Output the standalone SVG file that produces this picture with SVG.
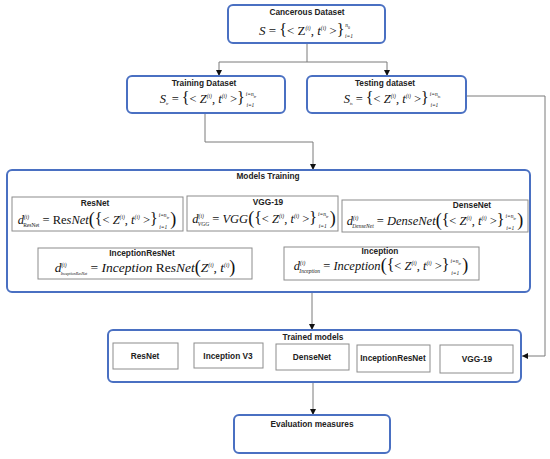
<svg xmlns="http://www.w3.org/2000/svg" width="550" height="459" viewBox="0 0 550 459">
<style>
.bx{fill:#fff;stroke:#4a70c2;stroke-width:2}
.sb{fill:#fff;stroke:#8c8c8c;stroke-width:1}
.lb{font-family:"Liberation Sans",Arial,sans-serif;font-weight:bold;font-size:8.3px;fill:#222;text-anchor:middle}
.m{font-family:"Liberation Serif","Times New Roman",serif;font-size:12.5px;fill:#111;text-anchor:middle}
.i{font-style:italic}
.s{font-size:5.5px}
.xs{font-size:4px}
.b{font-size:16px}
.p{font-size:18px}
.cn{fill:none;stroke:#7a7a7a;stroke-width:1}
</style>
<defs>
<marker id="ah" viewBox="0 0 10 10" refX="10" refY="5" markerWidth="6" markerHeight="6" markerUnits="userSpaceOnUse" orient="auto"><path d="M0,0 L10,5 L0,10 z" fill="#111"/></marker>
</defs>
<rect width="550" height="459" fill="#fff"/>
<g id="connectors">
<path class="cn" d="M307,43 V62 H219 V76" marker-end="url(#ah)"/>
<path class="cn" d="M307,62 H387 V76" marker-end="url(#ah)"/>
<path class="cn" d="M205,113 V142 H313 V170" marker-end="url(#ah)"/>
<path class="cn" d="M466,96 H545 V356 H522" marker-end="url(#ah)"/>
<path class="cn" d="M312,292 V330" marker-end="url(#ah)"/>
<path class="cn" d="M313,382 V415" marker-end="url(#ah)"/>
</g>
<g id="cancerous">
<rect class="bx" x="228" y="5" width="157" height="38" rx="5"/>
<text class="lb" x="307" y="15">Cancerous Dataset</text>
<text class="m" x="306" y="35" style="font-size:13px"><tspan class="i">S</tspan> = <tspan class="b">{</tspan>&lt; Z<tspan class="s i" dy="-5">(i)</tspan><tspan dy="5">, </tspan><tspan class="i">t</tspan><tspan class="s i" dy="-5">(i)</tspan><tspan dy="5"> &gt;</tspan><tspan class="b">}</tspan><tspan class="s i" dx="1" dy="-8">n</tspan><tspan class="xs" dy="1.5">0</tspan><tspan class="s i" dx="-5" dy="9.5">i=1</tspan></text>
</g>
<g id="training">
<rect class="bx" x="127" y="76" width="158" height="37" rx="5"/>
<text class="lb" x="204" y="86">Training Dataset</text>
<text class="m" x="208" y="103"><tspan class="i">S</tspan><tspan class="xs i" dy="2">tr</tspan><tspan dy="-2"> = </tspan><tspan class="b">{</tspan>&lt; <tspan class="i">Z</tspan><tspan class="s i" dy="-5">(i)</tspan><tspan dy="5">, </tspan><tspan class="i">t</tspan><tspan class="s i" dy="-5">(i)</tspan><tspan dy="5"> &gt;</tspan><tspan class="b">}</tspan><tspan class="s i" dx="1" dy="-7">i=n</tspan><tspan class="xs i" dy="1.5">tr</tspan><tspan class="s i" dx="-10" dy="9.5">i=1</tspan></text>
</g>
<g id="testing">
<rect class="bx" x="307" y="76" width="159" height="37" rx="5"/>
<text class="lb" x="385" y="86">Testing dataset</text>
<text class="m" x="392" y="103"><tspan class="i">S</tspan><tspan class="xs i" dy="2">ts</tspan><tspan dy="-2"> = </tspan><tspan class="b">{</tspan>&lt; <tspan class="i">Z</tspan><tspan class="s i" dy="-5">(i)</tspan><tspan dy="5">, </tspan><tspan class="i">t</tspan><tspan class="s i" dy="-5">(i)</tspan><tspan dy="5"> &gt;</tspan><tspan class="b">}</tspan><tspan class="s i" dx="1" dy="-7">i=n</tspan><tspan class="xs i" dy="1.5">ts</tspan><tspan class="s i" dx="-10" dy="9.5">i=1</tspan></text>
</g>
<g id="models-training">
<rect class="bx" x="7" y="170" width="523" height="122" rx="5"/>
<text class="lb" x="268" y="179">Models Training</text>
</g>
<g id="resnet-formula">
<rect class="sb" x="12" y="197" width="171" height="34"/>
<text class="lb" x="95" y="206">ResNet</text>
<text class="m" x="97" y="224"><tspan class="i">d</tspan><tspan class="s i" dy="-5">(i)</tspan><tspan class="s" dx="-6" dy="8">ResNet</tspan><tspan dy="-3"> = Re</tspan><tspan class="i">sNet</tspan><tspan class="p" dy="1">(</tspan><tspan class="b" dy="-1">{</tspan>&lt; <tspan class="i">Z</tspan><tspan class="s i" dy="-5">(i)</tspan><tspan dy="5">, </tspan><tspan class="i">t</tspan><tspan class="s i" dy="-5">(i)</tspan><tspan dy="5"> &gt;</tspan><tspan class="b">}</tspan><tspan class="s i" dx="1" dy="-7">i=n</tspan><tspan class="xs i" dy="1.5">tr</tspan><tspan class="s i" dx="-10" dy="10.5">i=1</tspan><tspan class="p" dx="3" dy="-4">)</tspan></text>
</g>
<g id="vgg-formula">
<rect class="sb" x="187" y="196" width="151" height="35"/>
<text class="lb" x="268" y="205">VGG-19</text>
<text class="m" x="264" y="223"><tspan class="i">d</tspan><tspan class="s i" dy="-5">(i)</tspan><tspan class="s i" dx="-6" dy="8">VGG</tspan><tspan dy="-3"> = </tspan><tspan class="i">VGG</tspan><tspan class="p" dy="1">(</tspan><tspan class="b" dy="-1">{</tspan>&lt; <tspan class="i">Z</tspan><tspan class="s i" dy="-5">(i)</tspan><tspan dy="5">, </tspan><tspan class="i">t</tspan><tspan class="s i" dy="-5">(i)</tspan><tspan dy="5"> &gt;</tspan><tspan class="b">}</tspan><tspan class="s i" dx="1" dy="-7">i=n</tspan><tspan class="xs i" dy="1.5">tr</tspan><tspan class="s i" dx="-10" dy="10.5">i=1</tspan><tspan class="p" dx="3" dy="-4">)</tspan></text>
</g>
<g id="densenet-formula">
<rect class="sb" x="342" y="200" width="186" height="32"/>
<text class="lb" x="472" y="208">DenseNet</text>
<text class="m" x="435" y="225"><tspan class="i">d</tspan><tspan class="s i" dy="-5">(i)</tspan><tspan class="s i" dx="-6" dy="8">DenseNet</tspan><tspan dy="-3"> = </tspan><tspan class="i">DenseNet</tspan><tspan class="p" dy="1">(</tspan><tspan class="b" dy="-1">{</tspan>&lt; <tspan class="i">Z</tspan><tspan class="s i" dy="-5">(i)</tspan><tspan dy="5">, </tspan><tspan class="i">t</tspan><tspan class="s i" dy="-5">(i)</tspan><tspan dy="5"> &gt;</tspan><tspan class="b">}</tspan><tspan class="s i" dx="1" dy="-7">i=n</tspan><tspan class="xs i" dy="1.5">tr</tspan><tspan class="s i" dx="-10" dy="10.5">i=1</tspan><tspan class="p" dx="3" dy="-4">)</tspan></text>
</g>
<g id="inceptionresnet-formula">
<rect class="sb" x="38" y="248" width="214" height="31"/>
<text class="lb" x="142" y="256">InceptionResNet</text>
<text class="m" x="145" y="272" style="font-size:13.5px"><tspan class="i">d</tspan><tspan class="s i" dy="-5">(i)</tspan><tspan class="xs i" dx="-6" dy="8">InceptionResNet</tspan><tspan dy="-3"> = </tspan><tspan class="i">Inception </tspan>Re<tspan class="i">sNet</tspan><tspan class="p" dy="1">(</tspan><tspan class="i" dy="-1">Z</tspan><tspan class="s i" dy="-5">(i)</tspan><tspan dy="5">, </tspan><tspan class="i">t</tspan><tspan class="s i" dy="-5">(i)</tspan><tspan class="p" dy="6">)</tspan></text>
</g>
<g id="inception-formula">
<rect class="sb" x="284" y="247" width="195" height="33"/>
<text class="lb" x="380" y="254">Inception</text>
<text class="m" x="381" y="270"><tspan class="i">d</tspan><tspan class="s i" dy="-5">(i)</tspan><tspan class="s i" dx="-6" dy="8">Inception</tspan><tspan dy="-3"> = </tspan><tspan class="i">Inception</tspan><tspan class="p" dy="1">(</tspan><tspan class="b" dy="-1">{</tspan>&lt; <tspan class="i">Z</tspan><tspan class="s i" dy="-5">(i)</tspan><tspan dy="5">, </tspan><tspan class="i">t</tspan><tspan class="s i" dy="-5">(i)</tspan><tspan dy="5"> &gt;</tspan><tspan class="b">}</tspan><tspan class="s i" dx="1" dy="-7">i=n</tspan><tspan class="xs i" dy="1.5">tr</tspan><tspan class="s i" dx="-10" dy="10.5">i=1</tspan><tspan class="p" dx="3" dy="-4">)</tspan></text>
</g>
<g id="trained-models">
<rect class="bx" x="108" y="330" width="413" height="52" rx="5"/>
<text class="lb" x="313" y="340">Trained models</text>
</g>
<g id="tm-resnet"><rect class="sb" x="113" y="343" width="65" height="26"/><text class="lb" x="145" y="359">ResNet</text></g>
<g id="tm-inceptionv3"><rect class="sb" x="194" y="343" width="69" height="25"/><text class="lb" x="228" y="359">Inception V3</text></g>
<g id="tm-densenet"><rect class="sb" x="276" y="344" width="73" height="26"/><text class="lb" x="312" y="360">DenseNet</text></g>
<g id="tm-inceptionresnet"><rect class="sb" x="357" y="345" width="73" height="27"/><text class="lb" x="393" y="361">InceptionResNet</text></g>
<g id="tm-vgg19"><rect class="sb" x="440" y="345" width="73" height="28"/><text class="lb" x="477" y="362">VGG-19</text></g>
<g id="evaluation">
<rect class="bx" x="234" y="415" width="156" height="38" rx="5"/>
<text class="lb" x="312" y="427">Evaluation measures</text>
</g>
</svg>
